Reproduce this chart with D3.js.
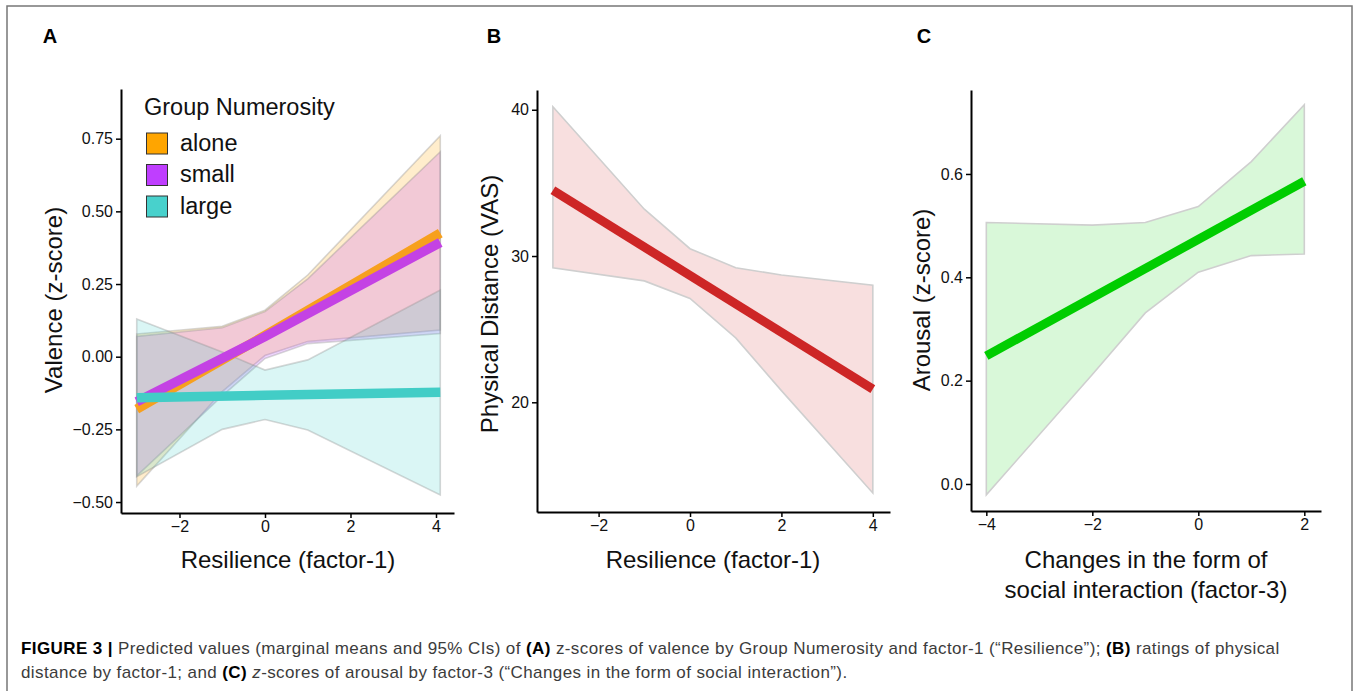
<!DOCTYPE html>
<html>
<head>
<meta charset="utf-8">
<script src="https://cdn.jsdelivr.net/npm/d3@7"></script>
<style>
  html, body { margin: 0; padding: 0; background: #fff; }
  svg text { font-family: "Liberation Sans", Arial, sans-serif; }
</style>
</head>
<body>
<div id="fig"></div>
<script>
// ---- Panel A: valence by group numerosity ----
const groups = ['alone', 'small', 'large'];
const groupFill = ['#FFA500', '#BF3EFF', '#48D1CC'];
const groupLine = ['#F7A01E', '#C442E4', '#42CDC6'];
const xBandA = [-3, -1, 0, 1, 4.1];
const upperA = [
  [0.078, 0.105, 0.160, 0.281, 0.760],
  [0.070, 0.100, 0.155, 0.268, 0.705],
  [0.130, 0.016, -0.046, -0.011, 0.229]
];
const lowerA = [
  [-0.445, -0.120, 0.004, 0.052, 0.092],
  [-0.410, -0.135, -0.006, 0.045, 0.080],
  [-0.413, -0.250, -0.216, -0.252, -0.476]
];
const xFitA = [-3, 0, 4.1];
const fitA = [
  [-0.180, 0.073, 0.425],
  [-0.155, 0.069, 0.393],
  [-0.141, -0.133, -0.122]
];
const yTicksA = [-0.50, -0.25, 0.00, 0.25, 0.50, 0.75];
const xTicksA = [-2, 0, 2, 4];

// ---- Panel B: physical distance ----
const xBandB = [-3, -1, 0, 1, 2, 4];
const upperB = [40.2, 33.2, 30.5, 29.2, 28.7, 28.0];
const lowerB = [29.2, 28.3, 27.1, 24.4, 20.8, 13.8];
const xFitB = [-3, 4];
const fitB = [34.5, 20.9];
const yTicksB = [20, 30, 40];
const xTicksB = [-2, 0, 2, 4];

// ---- Panel C: arousal ----
const xBandC = [-4, -2, -1, 0, 1, 2];
const upperC = [0.506, 0.501, 0.506, 0.537, 0.624, 0.734];
const lowerC = [-0.021, 0.212, 0.331, 0.410, 0.442, 0.445];
const xFitC = [-4, 2];
const fitC = [0.248, 0.586];
const yTicksC = [0.0, 0.2, 0.4, 0.6];
const xTicksC = [-4, -2, 0, 2];

const W = 1358, H = 691;
const svg = d3.select('#fig').append('svg').attr('width', W).attr('height', H);

// outer frame
svg.append('rect').attr('x', 7).attr('y', 6).attr('width', 1345).attr('height', 700)
  .attr('fill', 'none').attr('stroke', '#777').attr('stroke-width', 1.5);

const panels = [
  { label: 'A', lx: 50, box: [121, 454, 89, 513], xd: [-3.368, 4.421], yd: [-0.5377, 0.9209],
    xt: xTicksA, yt: yTicksA, yfmt: d3.format('.2f'),
    ytitle: 'Valence (z-score)', ytx: 62, yty: 300,
    xtitle: ['Resilience (factor-1)'], xtx: 288, xty: 568 },
  { label: 'B', lx: 494, box: [537, 890, 90, 512], xd: [-3.348, 4.376], yd: [12.50, 41.35],
    xt: xTicksB, yt: yTicksB, yfmt: d3.format('d'),
    ytitle: 'Physical Distance (VAS)', ytx: 498, yty: 304,
    xtitle: ['Resilience (factor-1)'], xtx: 713, xty: 568 },
  { label: 'C', lx: 924, box: [971, 1321, 90, 511], xd: [-4.289, 2.315], yd: [-0.0523, 0.7625],
    xt: xTicksC, yt: yTicksC, yfmt: d3.format('.1f'),
    ytitle: 'Arousal (z-score)', ytx: 930, yty: 300,
    xtitle: ['Changes in the form of', 'social interaction (factor-3)'], xtx: 1146, xty: 568 }
];

panels.forEach(p => {
  p.x = d3.scaleLinear().domain(p.xd).range([p.box[0], p.box[1]]);
  p.y = d3.scaleLinear().domain(p.yd).range([p.box[3], p.box[2]]);
});

function band(g, p, xs, lo, hi, fill, alpha, edge) {
  const pts = xs.map((x, i) => ({ x, lo: lo[i], hi: hi[i] }));
  g.append('path').datum(pts)
    .attr('d', d3.area().x(d => p.x(d.x)).y0(d => p.y(d.lo)).y1(d => p.y(d.hi)))
    .attr('fill', fill).attr('fill-opacity', alpha).attr('stroke', 'none');
  // ribbon outline
  const ring = pts.map(d => [p.x(d.x), p.y(d.hi)])
    .concat(pts.slice().reverse().map(d => [p.x(d.x), p.y(d.lo)]));
  g.append('path').attr('d', d3.line()(ring) + 'Z')
    .attr('fill', 'none').attr('stroke', edge).attr('stroke-width', 1.6);
}

function fitLine(g, p, xs, ys, color, w) {
  g.append('path').datum(xs.map((x, i) => [x, ys[i]]))
    .attr('d', d3.line().x(d => p.x(d[0])).y(d => p.y(d[1])))
    .attr('fill', 'none').attr('stroke', color).attr('stroke-width', w);
}

// panel A marks
const pA = panels[0];
const gA = svg.append('g');
groups.forEach((grp, i) => band(gA, pA, xBandA, lowerA[i], upperA[i], groupFill[i], 0.2, 'rgba(140,140,140,0.35)'));
groups.forEach((grp, i) => fitLine(gA, pA, xFitA, fitA[i], groupLine[i], 9.5));

// panel B marks
const pB = panels[1];
const gB = svg.append('g');
band(gB, pB, xBandB, lowerB, upperB, '#CD2626', 0.15, '#cfcfcf');
fitLine(gB, pB, xFitB, fitB, '#CD2626', 9);

// panel C marks
const pC = panels[2];
const gC = svg.append('g');
band(gC, pC, xBandC, lowerC, upperC, '#00CD00', 0.15, '#cfcfcf');
fitLine(gC, pC, xFitC, fitC, '#00CD00', 9);

// axes, titles, panel letters
panels.forEach(p => {
  const ax = svg.append('g').attr('transform', `translate(0,${p.box[3]})`)
    .call(d3.axisBottom(p.x).tickValues(p.xt).tickSize(5).tickSizeOuter(0).tickPadding(3)
      .tickFormat(d => d < 0 ? '\u2212' + Math.abs(d) : d));
  const ay = svg.append('g').attr('transform', `translate(${p.box[0]},0)`)
    .call(d3.axisLeft(p.y).tickValues(p.yt).tickSize(5).tickSizeOuter(0).tickPadding(3)
      .tickFormat(d => (d < 0 ? '\u2212' : '') + p.yfmt(Math.abs(d))));
  [ax, ay].forEach(a => {
    a.select('.domain').attr('stroke', '#000').attr('stroke-width', 2);
    a.selectAll('.tick line').attr('stroke', '#000').attr('stroke-width', 1.5);
    a.selectAll('.tick text').attr('fill', '#111').style('font-size', '16px');
  });

  svg.append('text').attr('transform', `translate(${p.ytx},${p.yty}) rotate(-90)`)
    .attr('text-anchor', 'middle').style('font-size', '24px').attr('fill', '#111')
    .text(p.ytitle);
  p.xtitle.forEach((t, i) => {
    svg.append('text').attr('x', p.xtx).attr('y', p.xty + i * 30)
      .attr('text-anchor', 'middle').style('font-size', '24px').attr('fill', '#111').text(t);
  });
  svg.append('text').attr('x', p.lx).attr('y', 43).attr('text-anchor', 'middle')
    .style('font-size', '20px').style('font-weight', 'bold').text(p.label);
});

// legend (panel A)
const leg = svg.append('g');
leg.append('text').attr('x', 144).attr('y', 115).style('font-size', '23.5px').attr('fill', '#111')
  .text('Group Numerosity');
groups.forEach((grp, i) => {
  const y0 = 133 + i * 31.5;
  leg.append('rect').attr('x', 146.5).attr('y', y0).attr('width', 21).attr('height', 21)
    .attr('fill', groupFill[i]).attr('stroke', '#333').attr('stroke-width', 1);
  leg.append('text').attr('x', 180).attr('y', y0 + 17.5).style('font-size', '23.5px')
    .attr('fill', '#111').text(grp);
});

// caption
const cap = svg.append('g').style('font-size', '17px').style('letter-spacing', '0.4px')
  .attr('fill', '#3c3c3c');
const l1 = cap.append('text').attr('x', 21).attr('y', 654);
l1.append('tspan').style('font-weight', 'bold').attr('fill', '#000').text('FIGURE 3 | ');
l1.append('tspan').text('Predicted values (marginal means and 95% CIs) of ');
l1.append('tspan').style('font-weight', 'bold').attr('fill', '#000').text('(A)');
l1.append('tspan').text(' z-scores of valence by Group Numerosity and factor-1 (\u201cResilience\u201d); ');
l1.append('tspan').style('font-weight', 'bold').attr('fill', '#000').text('(B)');
l1.append('tspan').text(' ratings of physical');
const l2 = cap.append('text').attr('x', 21).attr('y', 678);
l2.append('tspan').text('distance by factor-1; and ');
l2.append('tspan').style('font-weight', 'bold').attr('fill', '#000').text('(C)');
l2.append('tspan').text(' ');
l2.append('tspan').style('font-style', 'italic').text('z');
l2.append('tspan').text('-scores of arousal by factor-3 (\u201cChanges in the form of social interaction\u201d).');
</script>
</body>
</html>
